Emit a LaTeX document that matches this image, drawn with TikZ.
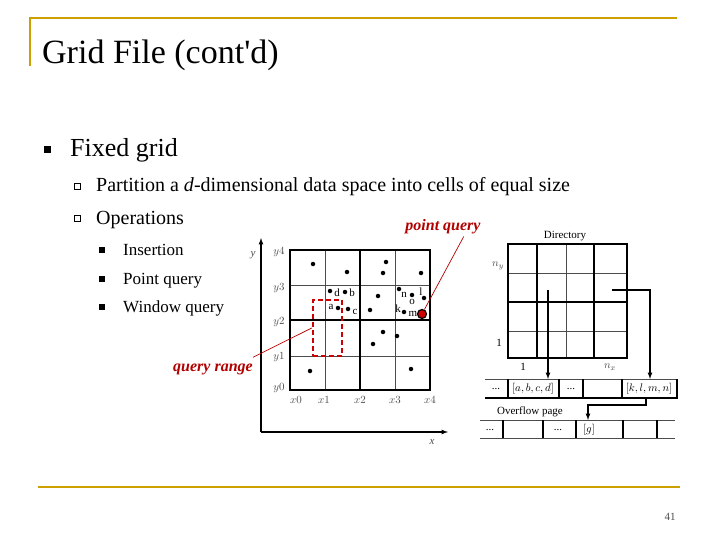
\documentclass[tikz,border=0pt]{standalone}
\usepackage{fontspec}
\setmainfont{Liberation Serif}
\begin{document}
\begin{tikzpicture}[x=1pt,y=-1pt,
 dot/.style={circle,fill=black,inner sep=0pt,minimum size=4.5pt},
 lbl/.style={font=\fontsize{11}{11}\selectfont,inner sep=0pt},
 ax/.style={font=\fontsize{11}{11}\selectfont\itshape,inner sep=0pt,text=black!70},
 thin/.style={draw=black!70,line width=0.7pt},
 thick/.style={draw=black,line width=1.2pt},
 redt/.style={text=red!70!black,font=\fontsize{16}{16}\selectfont\bfseries\itshape,inner sep=0pt}]
\definecolor{gold}{RGB}{204,160,0}
\useasboundingbox (0,0) rectangle (720,540);
\draw[gold,line width=2pt] (30,18) -- (677,18);
\draw[gold,line width=2pt] (30,17) -- (30,66);
\draw[gold,line width=2pt] (38,487) -- (680,487);
\node[anchor=base west,inner sep=0pt,font=\fontsize{34}{34}\selectfont] (title) at (42,64) {Grid File (cont\textquotesingle d)};
\node[fill=black,minimum size=7pt,inner sep=0pt] (b1) at (47,150) {};
\node[anchor=base west,inner sep=0pt,font=\fontsize{26}{26}\selectfont] (t1) at (70,157) {Fixed grid};
\node[draw,minimum size=6pt,inner sep=0pt] (b2) at (77,186) {};
\node[anchor=base west,inner sep=0pt,font=\fontsize{20}{20}\selectfont] (t2) at (96,192) {Partition a \emph{d}-dimensional data space into cells of equal size};
\node[draw,minimum size=6pt,inner sep=0pt] (b3) at (77,218) {};
\node[anchor=base west,inner sep=0pt,font=\fontsize{20}{20}\selectfont] (t3) at (96,225) {Operations};
\foreach \y/\t [count=\i] in {250/Insertion,279/Point query,307/Window query}{
 \node[fill=black,minimum size=5.5pt,inner sep=0pt] (sb\i) at (102,\y) {};
 \node[anchor=base west,inner sep=0pt,font=\fontsize{17}{17}\selectfont] (st\i) at (123,\y+5) {\t};}
% axes
\draw[line width=1.2pt,-latex] (261,432) -- (261,238);
\draw[line width=1.2pt,-latex] (261,432) -- (448,432);
\node[ax] (ylab) at (253,255) {y};
\node[ax] (xlab) at (432,442) {x};
% grid
\foreach \x in {325,395} \draw[thin] (\x,250) -- (\x,390);
\foreach \y in {285,356} \draw[thin] (290,\y) -- (430,\y);
\draw[thick] (290,250) rectangle (430,390);
\draw[thick] (360,250) -- (360,390);
\draw[thick] (290,320) -- (430,320);
\foreach \y/\t in {252/y4,288/y3,322/y2,357/y1,388/y0} \node[ax] at (279,\y) {$\t$};
\foreach \x/\t in {296/x0,324/x1,360/x2,395/x3,430/x4} \node[ax] at (\x,400) {$\t$};
\foreach \p in {(313,264),(347,272),(386,262),(383,273),(421,273),(330,291),(345,292),(338,308),(348,309),(378,296),(370,310),(399,289),(412,295),(424,298),(404,312),(383,332),(397,336),(373,344),(310,371),(411,369)}
 \node[dot] at \p {};
\node[lbl] at (337,293) {d};
\node[lbl] at (352,293) {b};
\node[lbl] at (331,307) {a};
\node[lbl] at (355,312) {c};
\node[lbl] at (404,295) {n};
\node[lbl] at (412,302) {o};
\node[lbl] at (421,292) {l};
\node[lbl] at (398,309) {k};
\node[lbl] at (413,314) {m};
\node[circle,draw=black,fill=red!80!black,line width=1.2pt,minimum size=9pt,inner sep=0pt] (mpt) at (422,314) {};
\node[draw=red!80!black,dash pattern=on 5pt off 3pt,line width=2.5pt,minimum width=29pt,minimum height=56pt,inner sep=0pt] (qr) at (327.5,328) {};
\node[redt] (pq) at (443,227) {point query};
\node[redt] (qrt) at (213,369) {query range};
\draw[red!70!black,line width=0.7pt] (pq.south east) ++(-17,2) -- (mpt);
\draw[red!70!black,line width=0.7pt] (qrt.north east) ++(0,-6) -- (qr.west);
% directory
\node[lbl] (dir) at (565,236) {Directory};
\foreach \x in {537,566,594} \draw[thin] (\x,244) -- (\x,358);
\foreach \y in {273,302,331} \draw[thin] (508,\y) -- (627,\y);
\draw[thick] (508,244) rectangle (627,358);
\draw[thick] (537,244) -- (537,358);
\draw[thick] (594,244) -- (594,358);
\draw[thick] (508,302) -- (627,302);
\node[ax] at (498,266) {$n_y$};
\node[lbl] at (499,343) {1};
\node[lbl] at (523,367) {1};
\node[ax] at (610,367) {$n_x$};
\draw[thin] (485,379) -- (678,379);
\draw[thick] (485,398) -- (678,398);
\foreach \x in {508,559,583,622,677} \draw[thick] (\x,379) -- (\x,398);
\node[lbl] (bk1) at (496,389) {...};
\node[lbl] (bk2) at (533,389) {$[a,b,c,d]$};
\node[lbl] at (571,389) {...};
\node[lbl] (bk4) at (649,389) {$[k,l,m,n]$};
\coordinate (s1) at (548,290);
\coordinate (s2) at (612,290);
\coordinate (e1) at (548,379);
\coordinate (e2) at (650,379);
\draw[line width=1.2pt,-latex] (s1) -- (e1);
\draw[line width=1.2pt,-latex] (s2) -| (e2);
\node[lbl] (ov) at (530,412) {Overflow page};
\draw[thin] (480,420) -- (675,420);
\draw[thin] (480,438) -- (675,438);
\foreach \x in {503,543,576,623,657} \draw[thick] (\x,420) -- (\x,438);
\node[lbl] at (490,430) {...};
\node[lbl] at (558,430) {...};
\node[lbl] (g) at (589,430) {$[g]$};
\coordinate (o1) at (646,398);
\coordinate (o2) at (588,420);
\draw[line width=1.2pt,-latex] (o1) -- (646,405) -| (o2);
\node[font=\fontsize{11}{11}\selectfont,text=black!70] (pg) at (670,517) {41};
\end{tikzpicture}
\end{document}
